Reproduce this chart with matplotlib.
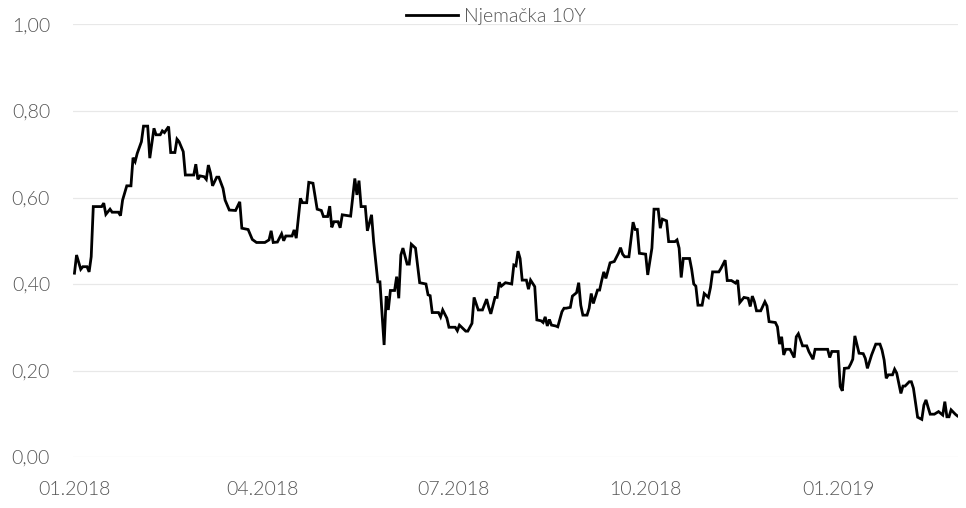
import matplotlib
matplotlib.use("Agg")
import matplotlib.pyplot as plt
import matplotlib.dates as mdates
import matplotlib.ticker as mticker
import pandas as pd

# Njemačka 10Y prinos (%)
dates = [
    "2018-01-01", "2018-01-02", "2018-01-04", "2018-01-05", "2018-01-07", "2018-01-08",
    "2018-01-09", "2018-01-10", "2018-01-12", "2018-01-14", "2018-01-15", "2018-01-16",
    "2018-01-18", "2018-01-19", "2018-01-22", "2018-01-23", "2018-01-24", "2018-01-26",
    "2018-01-28", "2018-01-29", "2018-01-30", "2018-01-31", "2018-02-02", "2018-02-03",
    "2018-02-05", "2018-02-06", "2018-02-08", "2018-02-09", "2018-02-11", "2018-02-12",
    "2018-02-13", "2018-02-15", "2018-02-16", "2018-02-18", "2018-02-19", "2018-02-20",
    "2018-02-22", "2018-02-23", "2018-02-27", "2018-02-28", "2018-03-01", "2018-03-02",
    "2018-03-04", "2018-03-05", "2018-03-06", "2018-03-07", "2018-03-08", "2018-03-10",
    "2018-03-11", "2018-03-13", "2018-03-14", "2018-03-16", "2018-03-19", "2018-03-21",
    "2018-03-22", "2018-03-25", "2018-03-27", "2018-03-29", "2018-04-02", "2018-04-04",
    "2018-04-05", "2018-04-06", "2018-04-08", "2018-04-10", "2018-04-11", "2018-04-12",
    "2018-04-15", "2018-04-16", "2018-04-17", "2018-04-19", "2018-04-20", "2018-04-22",
    "2018-04-23", "2018-04-25", "2018-04-27", "2018-04-29", "2018-04-30", "2018-05-02",
    "2018-05-03", "2018-05-04", "2018-05-05", "2018-05-07", "2018-05-08", "2018-05-09",
    "2018-05-13", "2018-05-15", "2018-05-16", "2018-05-17", "2018-05-18", "2018-05-20",
    "2018-05-21", "2018-05-23", "2018-05-24", "2018-05-26", "2018-05-27", "2018-05-29",
    "2018-05-30", "2018-05-31", "2018-06-01", "2018-06-03", "2018-06-04", "2018-06-05",
    "2018-06-06", "2018-06-07", "2018-06-09", "2018-06-10", "2018-06-11", "2018-06-13",
    "2018-06-15", "2018-06-18", "2018-06-19", "2018-06-20", "2018-06-21", "2018-06-24",
    "2018-06-25", "2018-06-26", "2018-06-28", "2018-06-29", "2018-07-02", "2018-07-03",
    "2018-07-04", "2018-07-07", "2018-07-08", "2018-07-10", "2018-07-11", "2018-07-13",
    "2018-07-15", "2018-07-17", "2018-07-18", "2018-07-19", "2018-07-21", "2018-07-22",
    "2018-07-23", "2018-07-24", "2018-07-26", "2018-07-29", "2018-07-30", "2018-07-31",
    "2018-08-01", "2018-08-02", "2018-08-03", "2018-08-05", "2018-08-06", "2018-08-07",
    "2018-08-09", "2018-08-10", "2018-08-12", "2018-08-13", "2018-08-14", "2018-08-15",
    "2018-08-16", "2018-08-17", "2018-08-19", "2018-08-20", "2018-08-22", "2018-08-23",
    "2018-08-24", "2018-08-26", "2018-08-27", "2018-08-29", "2018-08-30", "2018-08-31",
    "2018-09-01", "2018-09-03", "2018-09-04", "2018-09-05", "2018-09-06", "2018-09-08",
    "2018-09-09", "2018-09-10", "2018-09-11", "2018-09-12", "2018-09-14", "2018-09-16",
    "2018-09-18", "2018-09-19", "2018-09-20", "2018-09-21", "2018-09-23", "2018-09-25",
    "2018-09-26", "2018-09-27", "2018-09-28", "2018-10-01", "2018-10-02", "2018-10-04",
    "2018-10-05", "2018-10-07", "2018-10-08", "2018-10-09", "2018-10-11", "2018-10-12",
    "2018-10-15", "2018-10-16", "2018-10-17", "2018-10-18", "2018-10-19", "2018-10-22",
    "2018-10-23", "2018-10-24", "2018-10-25", "2018-10-26", "2018-10-28", "2018-10-29",
    "2018-10-31", "2018-11-01", "2018-11-02", "2018-11-05", "2018-11-06", "2018-11-08",
    "2018-11-09", "2018-11-11", "2018-11-13", "2018-11-14", "2018-11-15", "2018-11-17",
    "2018-11-19", "2018-11-20", "2018-11-21", "2018-11-22", "2018-11-23", "2018-11-25",
    "2018-11-27", "2018-11-28", "2018-11-29", "2018-12-02", "2018-12-03", "2018-12-04",
    "2018-12-05", "2018-12-06", "2018-12-07", "2018-12-09", "2018-12-11", "2018-12-12",
    "2018-12-13", "2018-12-15", "2018-12-17", "2018-12-18", "2018-12-20", "2018-12-21",
    "2018-12-27", "2018-12-28", "2018-12-29", "2019-01-01", "2019-01-02", "2019-01-03",
    "2019-01-04", "2019-01-06", "2019-01-07", "2019-01-08", "2019-01-09", "2019-01-11",
    "2019-01-13", "2019-01-14", "2019-01-15", "2019-01-17", "2019-01-19", "2019-01-21",
    "2019-01-22", "2019-01-23", "2019-01-24", "2019-01-25", "2019-01-27", "2019-01-28",
    "2019-01-29", "2019-01-31", "2019-02-01", "2019-02-02", "2019-02-04", "2019-02-05",
    "2019-02-06", "2019-02-08", "2019-02-10", "2019-02-11", "2019-02-12", "2019-02-13",
    "2019-02-14", "2019-02-16", "2019-02-18", "2019-02-19", "2019-02-20", "2019-02-21",
    "2019-02-22", "2019-02-23", "2019-02-24", "2019-02-26", "2019-02-27",
]
yields = [
    0.425, 0.467, 0.434, 0.440, 0.440, 0.428,
    0.463, 0.579, 0.579, 0.579, 0.587, 0.561,
    0.573, 0.566, 0.566, 0.558, 0.594, 0.627,
    0.627, 0.692, 0.683, 0.702, 0.729, 0.765,
    0.765, 0.691, 0.760, 0.745, 0.745, 0.754,
    0.750, 0.764, 0.704, 0.704, 0.735, 0.729,
    0.706, 0.652, 0.652, 0.677, 0.642, 0.650,
    0.648, 0.642, 0.675, 0.657, 0.627, 0.647,
    0.647, 0.621, 0.594, 0.571, 0.570, 0.590,
    0.529, 0.526, 0.503, 0.496, 0.496, 0.502,
    0.523, 0.496, 0.497, 0.516, 0.500, 0.511,
    0.511, 0.525, 0.506, 0.598, 0.588, 0.588,
    0.635, 0.633, 0.573, 0.570, 0.556, 0.556,
    0.580, 0.531, 0.544, 0.544, 0.530, 0.560,
    0.557, 0.644, 0.606, 0.639, 0.579, 0.579,
    0.523, 0.560, 0.498, 0.405, 0.405, 0.259,
    0.372, 0.340, 0.385, 0.385, 0.417, 0.367,
    0.467, 0.483, 0.446, 0.446, 0.492, 0.483,
    0.403, 0.400, 0.375, 0.373, 0.334, 0.334,
    0.324, 0.340, 0.321, 0.300, 0.300, 0.292,
    0.305, 0.291, 0.291, 0.309, 0.369, 0.340,
    0.340, 0.365, 0.346, 0.331, 0.369, 0.369,
    0.404, 0.395, 0.403, 0.400, 0.444, 0.442,
    0.476, 0.459, 0.409, 0.409, 0.388, 0.409,
    0.394, 0.317, 0.315, 0.311, 0.324, 0.303,
    0.318, 0.305, 0.303, 0.301, 0.336, 0.344,
    0.344, 0.346, 0.372, 0.380, 0.403, 0.351,
    0.328, 0.328, 0.344, 0.378, 0.355, 0.386,
    0.386, 0.408, 0.428, 0.413, 0.449, 0.452,
    0.471, 0.484, 0.469, 0.463, 0.463, 0.543,
    0.526, 0.526, 0.471, 0.469, 0.421, 0.483,
    0.573, 0.573, 0.529, 0.550, 0.546, 0.498,
    0.498, 0.502, 0.483, 0.415, 0.459, 0.459,
    0.434, 0.400, 0.395, 0.351, 0.351, 0.378,
    0.369, 0.392, 0.428, 0.428, 0.436, 0.455,
    0.408, 0.408, 0.402, 0.409, 0.357, 0.369,
    0.367, 0.348, 0.372, 0.359, 0.338, 0.338,
    0.359, 0.349, 0.313, 0.311, 0.301, 0.261,
    0.278, 0.236, 0.249, 0.249, 0.230, 0.278,
    0.285, 0.257, 0.257, 0.244, 0.226, 0.249,
    0.249, 0.230, 0.244, 0.244, 0.163, 0.153,
    0.205, 0.206, 0.215, 0.226, 0.280, 0.240,
    0.239, 0.228, 0.205, 0.236, 0.261, 0.261,
    0.247, 0.224, 0.182, 0.190, 0.190, 0.203,
    0.194, 0.147, 0.164, 0.164, 0.174, 0.174,
    0.159, 0.092, 0.087, 0.120, 0.132, 0.115,
    0.099, 0.099, 0.105, 0.101, 0.097, 0.128,
    0.093, 0.093, 0.109, 0.099, 0.095,
]
series_name = "Njemačka 10Y"
y_ticks = [0.0, 0.2, 0.4, 0.6, 0.8, 1.0]
x_ticks = ["2018-01-01", "2018-04-01", "2018-07-01", "2018-10-01", "2019-01-01"]

plt.rcParams["font.family"] = ["Lato", "DejaVu Sans"]
grey = "#555555"
fs = 14

fig = plt.figure(figsize=(9.66, 5.08), dpi=100)
ax = fig.add_axes([73 / 966, 51 / 508, 885 / 966, 432.5 / 508])

x = pd.to_datetime(dates)
ax.plot(x, yields, color="black", lw=2.0, label=series_name, solid_joinstyle="miter")

start = mdates.date2num(pd.Timestamp("2018-01-01"))
ax.set_xlim(start - 0.7, start + 422.3)
ax.set_ylim(0, 1)

ax.set_yticks(y_ticks)
ax.yaxis.set_major_formatter(mticker.FuncFormatter(lambda v, p: f"{v:.2f}".replace(".", ",")))
ax.set_xticks(pd.to_datetime(x_ticks))
ax.xaxis.set_major_formatter(mdates.DateFormatter("%m.%Y"))

ax.grid(axis="y", color="#e8e8e8", lw=0.9)
ax.set_axisbelow(True)
for s in ax.spines.values():
    s.set_visible(False)
ax.tick_params(axis="both", length=0, colors=grey, labelsize=fs)
ax.tick_params(axis="y", pad=16.5)
ax.tick_params(axis="x", pad=17)
for lab in ax.get_xticklabels() + ax.get_yticklabels():
    lab.set_fontweight(300)

leg = fig.legend(loc="center", bbox_to_anchor=(0.513, 0.968), frameon=False,
                 handlelength=2.7, handletextpad=0.3,
                 prop={"weight": 300, "size": fs})
for t in leg.get_texts():
    t.set_color(grey)

fig.savefig("out.png", dpi=100)
